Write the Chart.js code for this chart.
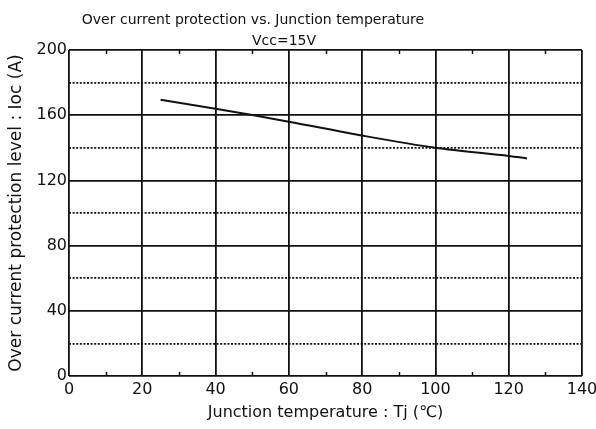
<!DOCTYPE html>
<html>
<head>
<meta charset="utf-8">
<script src="https://cdn.jsdelivr.net/npm/chart.js@4/dist/chart.umd.min.js"></script>
<style>
  html, body { margin: 0; padding: 0; background: #fff; }
  #wrap { width: 596px; height: 429px; }
</style>
</head>
<body>
<div id="wrap"><canvas id="chart"></canvas></div>
<script>
// values
const junctionTemp = [25, 40, 60, 80, 100, 120, 125];
const iocLevel = [169.5, 164, 156, 147.5, 140, 135, 133.5];
const minorTicksX = [10, 30, 50, 70, 90, 110, 130];
const titleText = "Over current protection vs. Junction temperature";
const subtitleText = "Vcc=15V";
const xAxisLabel = "Junction temperature : Tj (\u2103)";
const yAxisLabel = "Over current protection level : Ioc (A)";

const ink = "#111";
const fontFamily = "'DejaVu Sans', sans-serif";

const minorTicks = {
  id: "minorTicks",
  afterDatasetsDraw(chart) {
    const { ctx, chartArea, scales } = chart;
    ctx.save();
    ctx.strokeStyle = ink;
    ctx.lineWidth = 1.5;
    minorTicksX.forEach((v) => {
      const px = Math.round(scales.x.getPixelForValue(v)) + 0.5;
      ctx.beginPath();
      ctx.moveTo(px, chartArea.bottom);
      ctx.lineTo(px, chartArea.bottom - 4);
      ctx.moveTo(px, chartArea.top);
      ctx.lineTo(px, chartArea.top + 4);
      ctx.stroke();
    });
    ctx.restore();
  }
};

const headings = {
  id: "headings",
  afterDraw(chart) {
    const { ctx } = chart;
    ctx.save();
    ctx.fillStyle = ink;
    ctx.textAlign = "center";
    ctx.textBaseline = "middle";
    ctx.font = "14px " + fontFamily;
    ctx.fillText(titleText, 253, 20);
    ctx.fillText(subtitleText, 284, 41);
    ctx.restore();
  }
};

new Chart(document.getElementById("chart"), {
  type: "line",
  data: {
    datasets: [{
      data: junctionTemp.map((t, i) => ({ x: t, y: iocLevel[i] })),
      borderColor: ink,
      borderWidth: 2,
      pointRadius: 0,
      tension: 0.3,
      fill: false
    }]
  },
  options: {
    responsive: true,
    maintainAspectRatio: false,
    animation: false,
    layout: { padding: { top: 50, right: 14, left: 0, bottom: 0 } },
    plugins: {
      legend: { display: false },
      title: { display: false },
      tooltip: { enabled: false }
    },
    scales: {
      x: {
        type: "linear",
        min: 0,
        max: 140,
        afterFit: (scale) => {
          scale.height = 53;
          scale.paddingLeft = 0;
          scale.paddingRight = 0;
        },
        ticks: { stepSize: 20, color: ink, padding: 4, font: { family: fontFamily, size: 16 } },
        grid: { color: ink, lineWidth: 1.8, drawTicks: false },
        border: { display: false },
        title: {
          display: true,
          text: xAxisLabel,
          color: ink,
          font: { family: fontFamily, size: 16 },
          padding: { top: 0, bottom: 7 }
        }
      },
      y: {
        min: 0,
        max: 200,
        afterFit: (scale) => {
          scale.width = 69;
          scale.paddingTop = 0;
          scale.paddingBottom = 0;
        },
        ticks: {
          stepSize: 20,
          autoSkip: false,
          color: ink,
          padding: 2,
          font: { family: fontFamily, size: 16 },
          callback: (v) => (v % 40 === 0 ? v : "")
        },
        grid: { color: ink, lineWidth: 1.8, drawTicks: false },
        border: {
          display: false,
          dash: (ctx) => (ctx.tick && ctx.tick.value % 40 !== 0 ? [2, 1.6] : [])
        },
        title: {
          display: true,
          text: yAxisLabel,
          color: ink,
          font: { family: fontFamily, size: 17 },
          padding: { top: 6, bottom: 0 }
        }
      }
    }
  },
  plugins: [minorTicks, headings]
});
</script>
</body>
</html>
